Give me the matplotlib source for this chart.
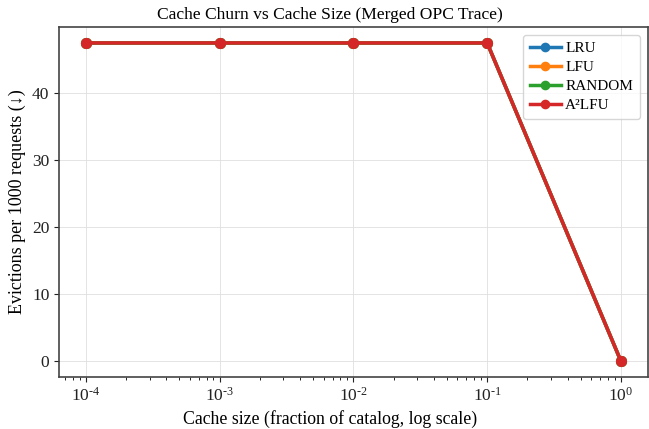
import matplotlib
matplotlib.use('Agg')
import matplotlib.pyplot as plt
from matplotlib.ticker import FuncFormatter
import numpy as np

# cache size as a fraction of the catalog
cache_sizes = [1e-4, 1e-3, 1e-2, 1e-1, 1.0]
# evictions per 1000 requests for each policy
lru = [47.5, 47.5, 47.5, 47.5, 0.0]
lfu = [47.5, 47.5, 47.5, 47.5, 0.0]
rand = [47.5, 47.5, 47.5, 47.5, 0.0]
a2lfu = [47.5, 47.5, 47.5, 47.5, 0.0]

series = [('LRU', lru, '#1f77b4'), ('LFU', lfu, '#ff7f0e'),
          ('RANDOM', rand, '#2ca02c'), ('A\u00b2LFU', a2lfu, '#d62728')]

plt.rcParams['font.family'] = ['Liberation Serif', 'DejaVu Serif']
plt.rcParams['mathtext.fontset'] = 'custom'
plt.rcParams['mathtext.rm'] = 'Liberation Serif'
plt.rcParams['mathtext.it'] = 'Liberation Serif:italic'
plt.rcParams['mathtext.bf'] = 'Liberation Serif:bold'


def pow10(v, pos):
    e = int(round(np.log10(v)))
    if e < 0:
        return r'$\mathdefault{10^{\text{-}%d}}$' % (-e)
    return r'$\mathdefault{10^{%d}}$' % e


fig = plt.figure(figsize=(6.49, 4.29), dpi=100)
ax = fig.add_axes([0.091, 0.121, 0.907, 0.816])

for name, vals, color in series:
    ax.plot(cache_sizes, vals, marker='o', color=color, lw=2.5, ms=7, label=name)

ax.set_xscale('log')
ax.xaxis.set_major_formatter(FuncFormatter(pow10))
ax.set_yticks([0, 10, 20, 30, 40])
ax.grid(True, which='major', color='#dddddd', lw=0.7, alpha=0.8)
for s in ax.spines.values():
    s.set_color('#444444')
    s.set_linewidth(1.2)
ax.tick_params(labelsize=12.5, colors='#222222')
ax.set_title('Cache Churn vs Cache Size (Merged OPC Trace)', fontsize=12.6, x=0.46)
ax.set_xlabel('Cache size (fraction of catalog, log scale)', fontsize=12.8, x=0.46)
ax.set_ylabel('Evictions per 1000 requests (\u2193)', fontsize=13)
ax.legend(loc='upper right', fontsize=11, handlelength=2.0, handletextpad=0.3,
          borderpad=0.45, labelspacing=0.35, markerscale=0.85)

fig.savefig('out.png', dpi=100)
